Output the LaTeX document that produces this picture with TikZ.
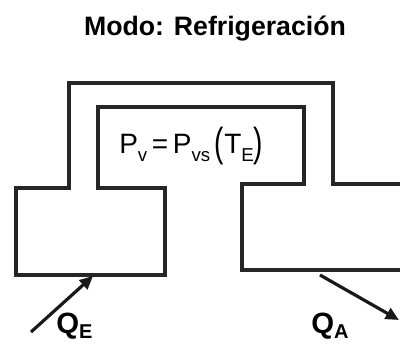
\documentclass[tikz,border=0pt]{standalone}
\usepackage{fontspec}
\setmainfont{Liberation Sans}
\usetikzlibrary{arrows.meta}

\newcommand{\subtxt}[1]{\raisebox{-0.55ex}{\fontsize{14}{16}\selectfont #1}}
\newcommand{\qsub}[1]{\raisebox{-0.35ex}{\fontsize{15}{17}\selectfont #1}}
\newcommand{\bigpar}[1]{\raisebox{-0.25ex}{\scalebox{1}[1.45]{#1}}}

\begin{document}
\begin{tikzpicture}[
  x=0.75pt, y=-0.75pt,
  font=\fontsize{21}{25}\selectfont,
  wall/.style={draw=black!85, line width=2.3pt, line join=miter},
  heat/.style={draw=black!90, line width=2.4pt,
               -{Triangle[length=10pt, width=9pt]}},
  qlabel/.style={font=\fontsize{22}{26}\selectfont\bfseries, anchor=base west, inner sep=0pt}
]

\useasboundingbox (0,0) rectangle (400,343);

% ── Title ────────────────────────────────────────────────────────────────────
\node[font=\fontsize{20}{24}\selectfont\bfseries, anchor=base, inner sep=0pt] (title)
  at (215,35) {Modo: Refrigeración};

% ── Pipe outline (two tanks joined by a channel) ─────────────────────────────
\draw[wall] (400,184) -- (333,184) -- (333,83) -- (69,83) -- (69,188)
  -- (16,188) -- (16,275) -- (165,275) -- (165,188) -- (98,188)
  -- (98,107) -- (304,107) -- (304,184) -- (242,184) -- (242,270)
  -- (400,270);

% ── Equation ─────────────────────────────────────────────────────────────────
\node[anchor=base west, inner sep=0pt] (eq) at (119,153)
  {P\subtxt{v}\,=\,P\subtxt{vs}\,\bigpar{(}T\subtxt{E}\bigpar{)}};

% ── Heat flows ───────────────────────────────────────────────────────────────
\coordinate (qeStart) at (31,332);
\coordinate (qeEnd)   at (93,276);
\coordinate (qaStart) at (320,275);
\coordinate (qaEnd)   at (399,320);

\draw[heat] (qeStart) -- (qeEnd);
\draw[heat] (qaStart) -- (qaEnd);

\node[qlabel] (qe) at (56,333) {Q\qsub{E}};
\node[qlabel] (qa) at (311,333) {Q\qsub{A}};

\end{tikzpicture}
\end{document}
